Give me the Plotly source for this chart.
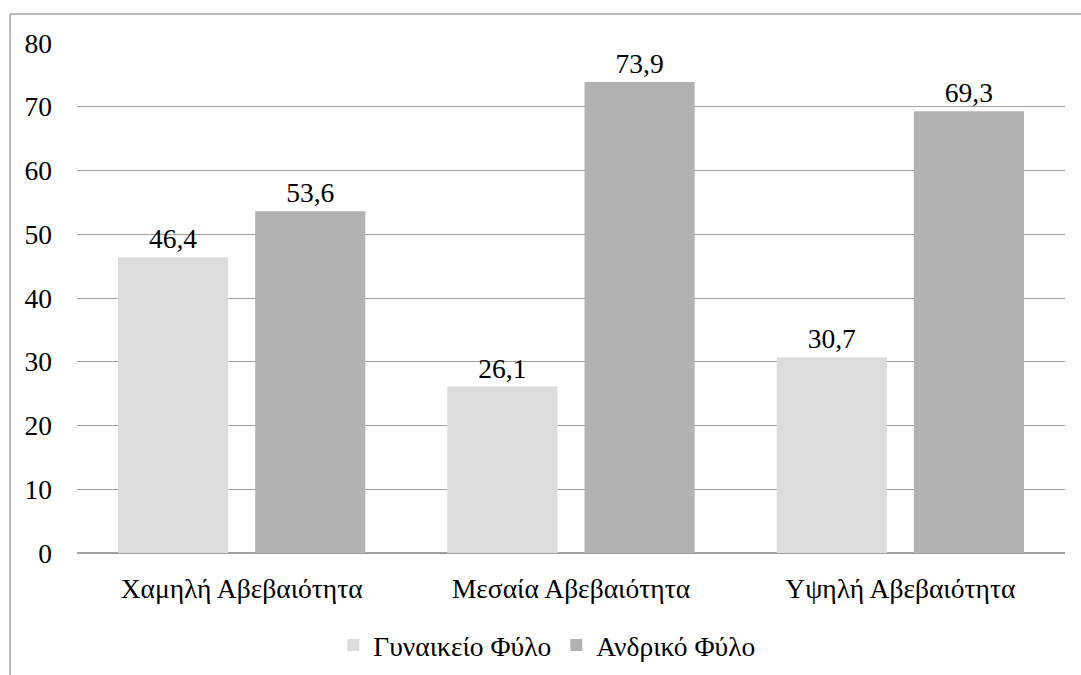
import plotly.graph_objects as go

categories = ["Χαμηλή Αβεβαιότητα", "Μεσαία Αβεβαιότητα", "Υψηλή Αβεβαιότητα"]
female = [46.4, 26.1, 30.7]
male = [53.6, 73.9, 69.3]
y_ticks = [0, 10, 20, 30, 40, 50, 60, 70, 80]

FONT = "Liberation Serif"
FS = 27.5

fig = go.Figure()
fig.add_trace(go.Bar(
    name="Γυναικείο Φύλο", x=categories, y=female,
    marker=dict(color="#dcdcdc", line=dict(width=0)),
    texttemplate="%{y:.1f}", textposition="outside", cliponaxis=False,
    textfont=dict(family=FONT, size=FS, color="#000"),
))
fig.add_trace(go.Bar(
    name="Ανδρικό Φύλο", x=categories, y=male,
    marker=dict(color="#b2b2b2", line=dict(width=0)),
    texttemplate="%{y:.1f}", textposition="outside", cliponaxis=False,
    textfont=dict(family=FONT, size=FS, color="#000"),
))

L, R, T, B = 77, 16, 43, 122
W, H = 1081, 675
pw, ph = W - L - R, H - T - B

fig.update_layout(
    width=W, height=H,
    margin=dict(l=L, r=R, t=T, b=B, autoexpand=False),
    paper_bgcolor="white", plot_bgcolor="white",
    separators=",.",
    barmode="group", bargap=0.167, bargroupgap=0.197,
    font=dict(family=FONT, size=FS, color="#000"),
    showlegend=True,
    legend=dict(orientation="h", x=0.476, xanchor="center",
                y=(553 - 645) / ph, yanchor="middle",
                font=dict(family=FONT, size=FS, color="#000"),
                itemwidth=30, traceorder="normal"),
    xaxis=dict(showgrid=False, showline=False, zeroline=False,
               automargin=False,
               ticks="outside", ticklen=11, tickcolor="rgba(0,0,0,0)",
               tickfont=dict(family=FONT, size=FS, color="#000")),
    yaxis=dict(range=[0, 80], tickvals=y_ticks, showgrid=True,
               automargin=False,
               gridcolor="#a0a0a0", gridwidth=1, zeroline=True,
               zerolinecolor="#a0a0a0", zerolinewidth=1.5, showline=False,
               ticks="", ticklabelstandoff=24,
               tickfont=dict(family=FONT, size=FS, color="#000")),
    shapes=[
        # outer chart border (top and left edges)
        dict(type="line", xref="paper", yref="paper",
             x0=(10 - L) / pw, x1=(W + 5 - L) / pw,
             y0=1 + (T - 14) / ph, y1=1 + (T - 14) / ph,
             line=dict(color="#a6a6a6", width=1.5)),
        dict(type="line", xref="paper", yref="paper",
             x0=(10 - L) / pw, x1=(10 - L) / pw,
             y0=1 + (T - 14) / ph, y1=-(B + 5) / ph,
             line=dict(color="#a6a6a6", width=1.5)),
    ],
)

fig.write_html("out.html")
